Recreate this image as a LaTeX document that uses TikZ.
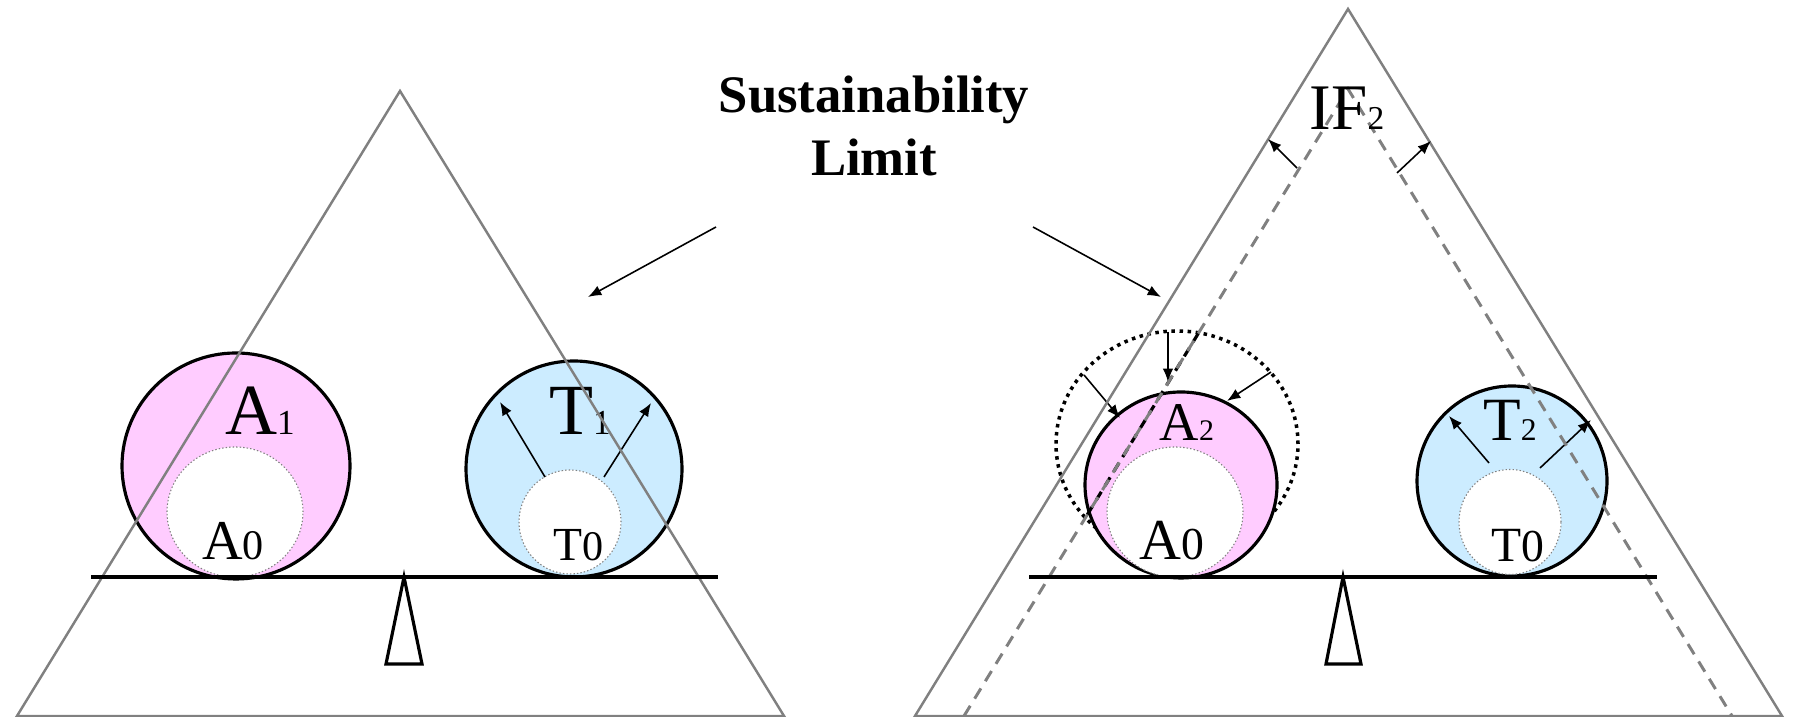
\documentclass[tikz,border=0pt]{standalone}
\usepackage{fontspec}
\setmainfont{Liberation Serif}
\usetikzlibrary{arrows.meta}
\definecolor{pinkfill}{HTML}{FFCCFF}
\definecolor{bluefill}{HTML}{CCECFF}
\definecolor{edge}{HTML}{808080}
% big letter followed by a small digit on the same baseline
\newcommand{\sizedlbl}[4]{{\fontsize{#2}{#2}\selectfont #1}{\fontsize{#4}{#4}\selectfont #3}}

\begin{document}
\begin{tikzpicture}[>={Latex[length=3.8pt,width=3pt]},
    limit/.style={draw=edge,line width=0.7pt},
    shifted/.style={draw=edge,line width=0.85pt,dash pattern=on 3.4pt off 2.4pt},
    ball/.style={draw=black,line width=0.9pt},
    core/.style={fill=white,draw=gray,line width=0.3pt,dash pattern=on 0.4pt off 0.6pt},
    push/.style={->,line width=0.45pt},
    tag/.style={inner sep=0pt,anchor=base}]
  \useasboundingbox (0,0) rectangle (17.93,7.17);
  % left panel
  \draw[ball,fill=pinkfill] (2.36,2.51) ellipse (1.14 and 1.13);
  \draw[core] (2.35,2.05) ellipse (0.68 and 0.65);
  \draw[ball,fill=bluefill] (5.74,2.48) circle (1.08);
  \draw[core] (5.70,1.95) ellipse (0.51 and 0.52);
  \coordinate (t1la) at (5.45,2.40); \coordinate (t1lb) at (5.00,3.15);
  \coordinate (t1ra) at (6.04,2.40); \coordinate (t1rb) at (6.51,3.14);
  \draw[push] (t1la) -- (t1lb);
  \draw[push] (t1ra) -- (t1rb);
  \node[tag] (a1) at (2.60,2.82) {\sizedlbl{A}{20.5}{1}{10}};
  \node[tag] (a0left) at (2.33,1.57) {\sizedlbl{A}{16}{0}{12}};
  \node[tag] (t1) at (5.80,2.82) {\sizedlbl{T}{20.5}{1}{10}};
  \node[tag] (t0left) at (5.79,1.56) {\sizedlbl{T}{13.5}{0}{12}};
  \draw[limit] (0.17,0.01) -- (4.00,6.26) -- (7.84,0.01) -- cycle;
  \draw[line width=1pt] (0.91,1.40) -- (7.18,1.40);
  \draw[line width=0.9pt,fill=white] (4.04,1.40) -- (4.22,0.53) -- (3.86,0.53) -- cycle;
  % title and its arrows
  \node[font=\bfseries\fontsize{15}{18}\selectfont,align=center,inner sep=0pt,anchor=north] (limit) at (8.74,6.42) {Sustainability\\Limit};
  \coordinate (sll) at (7.16,4.90); \coordinate (sllt) at (5.88,4.20);
  \coordinate (slr) at (10.33,4.90); \coordinate (slrt) at (11.61,4.20);
  \draw[push] (sll) -- (sllt);
  \draw[push] (slr) -- (slrt);
  % right panel
  \draw[line width=1pt,dash pattern=on 1pt off 1.3pt] (11.77,2.73) ellipse (1.21 and 1.13);
  \draw[ball,fill=pinkfill] (11.81,2.32) ellipse (0.96 and 0.93);
  \draw[core] (11.75,2.05) ellipse (0.68 and 0.65);
  \draw[ball,fill=bluefill] (15.12,2.36) circle (0.95);
  \draw[core] (15.10,1.95) ellipse (0.51 and 0.525);
  \begin{scope}
    \clip (11.77,2.73) ellipse (1.21 and 1.13);
    \draw[line width=0.9pt,dash pattern=on 2.8pt off 2pt] (13.48,6.28) -- (9.64,0.01);
  \end{scope}
  \draw[push] (10.84,3.42) -- (11.20,2.99);
  \draw[push] (11.68,3.85) -- (11.68,3.35);
  \draw[push] (12.71,3.45) -- (12.27,3.16);
  \draw[push] (14.89,2.54) -- (14.49,3.01);
  \draw[push] (15.40,2.49) -- (15.91,2.97);
  \node[tag] (a2) at (11.87,2.76) {\sizedlbl{A}{15.5}{2}{8.5}};
  \node[tag] (a0right) at (11.72,1.57) {\sizedlbl{A}{16.5}{0}{13}};
  \node[tag] (t2) at (15.10,2.76) {\sizedlbl{T}{17.5}{2}{9}};
  \node[tag] (t0right) at (15.18,1.55) {\sizedlbl{T}{14}{0}{13}};
  \draw[limit] (9.15,0.01) -- (13.48,7.08) -- (17.82,0.01) -- cycle;
  \draw[shifted] (9.64,0.01) -- (13.48,6.28) -- (17.32,0.01);
  \draw[push] (12.97,5.49) -- (12.68,5.78);
  \draw[push] (13.97,5.44) -- (14.31,5.76);
  \node[tag] (if2) at (13.47,5.87) {\sizedlbl{IF}{18.5}{2}{9.5}};
  \draw[line width=1pt] (10.29,1.40) -- (16.57,1.40);
  \draw[line width=0.9pt,fill=white] (13.43,1.40) -- (13.61,0.53) -- (13.26,0.53) -- cycle;
\end{tikzpicture}
\end{document}
